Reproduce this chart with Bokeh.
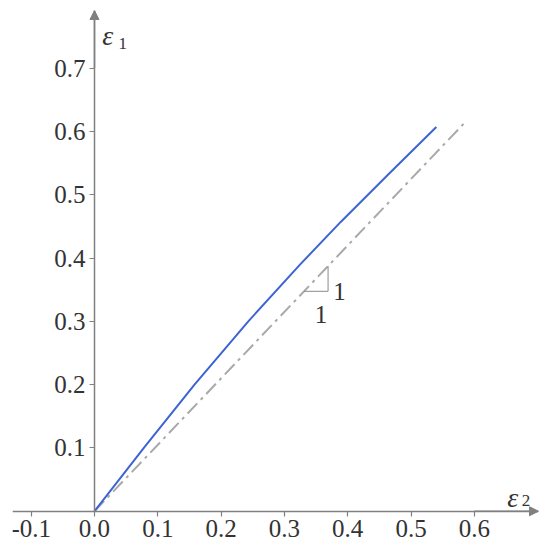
from bokeh.plotting import figure
from bokeh.models import FixedTicker, NumeralTickFormatter, Arrow, NormalHead, Range1d
from bokeh.core.properties import value
from bokeh.embed import file_html
from bokeh.resources import INLINE

# ---- data ----
x_ticks = [-0.1, 0.0, 0.1, 0.2, 0.3, 0.4, 0.5, 0.6]
y_ticks = [0.1, 0.2, 0.3, 0.4, 0.5, 0.6, 0.7]
curve_x = [0.0, 0.078, 0.158, 0.243, 0.325, 0.389, 0.464, 0.540]
curve_y = [0.0, 0.100, 0.200, 0.300, 0.390, 0.457, 0.532, 0.607]
ref_x = [0.0, 0.585]
ref_y = [0.0, 0.614]

AX = "#808080"
TXT = "#333333"
FONT = "Liberation Serif"

X0, X1 = -0.1295, 0.7014
Y0, Y1 = -0.0494, 0.791

p = figure(width=542, height=542, output_backend="svg", toolbar_location=None,
           x_range=Range1d(X0, X1), y_range=Range1d(Y0, Y1),
           min_border_left=12, min_border_right=4, min_border_top=10,
           min_border_bottom=0)
p.xgrid.visible = False
p.ygrid.visible = False
p.outline_line_color = None
p.background_fill_color = "white"

for ax, ticks in ((p.xaxis[0], x_ticks), (p.yaxis[0], y_ticks)):
    ax.fixed_location = 0
    ax.ticker = FixedTicker(ticks=ticks)
    ax.formatter = NumeralTickFormatter(format="0.0")
    ax.major_tick_in = 0
    ax.major_tick_out = 5
    ax.minor_tick_in = 0
    ax.minor_tick_out = 0
    ax.axis_line_color = AX
    ax.axis_line_width = 1.5
    ax.major_tick_line_color = AX
    ax.major_tick_line_width = 1.2
    ax.major_label_text_font = FONT
    ax.major_label_text_font_size = "25px"
    ax.major_label_text_color = TXT
    ax.major_label_standoff = 4
p.yaxis[0].bounds = (0, Y1)

# curves
p.line(ref_x, ref_y, line_color="#a9a9a9", line_width=2, line_dash="14 5 3 5")
p.line(curve_x, curve_y, line_color="#3c64d2", line_width=2)

# axis arrows
p.add_layout(Arrow(x_start=0.6, y_start=0, x_end=X1, y_end=0,
                   line_color=AX, line_width=1.5,
                   end=NormalHead(size=9, fill_color=AX, line_color=AX)))
p.add_layout(Arrow(x_start=0, y_start=0.7, x_end=0, y_end=Y1,
                   line_color=AX, line_width=1.5,
                   end=NormalHead(size=9, fill_color=AX, line_color=AX)))

# slope triangle on reference line
k = ref_y[1] / ref_x[1]
xa, xb = 0.331, 0.369
p.line([xa, xb, xb], [k * xa, k * xa, k * xb], line_color="#8a8a8a", line_width=1)
p.text(x=[0.387, 0.358], y=[k * xa, k * xa - 0.037], text=["1", "1"],
       text_font=value(FONT), text_font_size="25px", text_color=TXT,
       text_align="center", text_baseline="alphabetic")

# axis labels
p.text(x=[0.0122, 0.652], y=[0.7515, 0.0216], text=["ε", "ε"],
       text_font=value(FONT), text_font_style="italic", text_font_size="28px",
       text_color=TXT, text_align="left", text_baseline="alphabetic")
p.text(x=[0.038, 0.675], y=[0.739, 0.0169], text=["1", "2"],
       text_font=value(FONT), text_font_size="17px",
       text_color=TXT, text_align="left", text_baseline="alphabetic")

open("out.html", "w").write(file_html(p, INLINE))
